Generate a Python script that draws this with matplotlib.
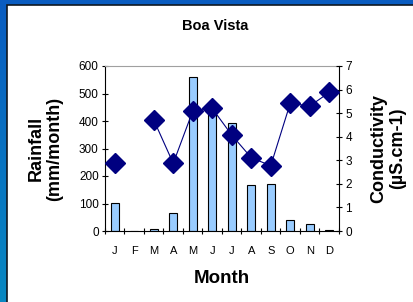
import matplotlib
matplotlib.use("Agg")
import matplotlib.pyplot as plt
import numpy as np
from matplotlib.patches import Rectangle

months = ["J", "F", "M", "A", "M", "J", "J", "A", "S", "O", "N", "D"]
rainfall = [103, 0, 6, 64, 561, 440, 393, 166, 170, 39, 24, 3]
conductivity = [2.88, np.nan, 4.71, 2.87, 5.09, 5.2, 4.07, 3.11, 2.77, 5.42, 5.3, 5.88]

W, H = 414, 302
fig = plt.figure(figsize=(W / 100, H / 100), dpi=100)

# blue gradient background
bg = fig.add_axes([0, 0, 1, 1])
bg.set_axis_off()
grad = np.linspace(0, 1, 100)[:, None]
c_top = np.array([0x0a, 0x5c, 0xc0]) / 255
c_bot = np.array([0x08, 0x88, 0xc2]) / 255
img = c_top[None, None, :] * (1 - grad[:, :, None]) + c_bot[None, None, :] * grad[:, :, None]
bg.imshow(img, aspect="auto", extent=[0, 1, 0, 1], origin="upper")
bg.set_xlim(0, 1)
bg.set_ylim(0, 1)
bg.add_patch(Rectangle((7 / W, -0.1), 1.2, 1.1 - 5 / H, facecolor="white",
                       edgecolor="#101820", linewidth=1.2, transform=bg.transAxes))

left, right, top, bottom = 105, 339, 66, 231
ax = fig.add_axes([left / W, 1 - bottom / H, (right - left) / W, (bottom - top) / H])
ax.set_zorder(2)
x = np.arange(len(months))
ax.bar(x, rainfall, width=0.42, color="#99ccff", edgecolor="black", linewidth=0.8, zorder=2)
ax.set_xlim(-0.5, 11.5)
ax.set_ylim(0, 600)
ax.set_yticks(range(0, 601, 100))
ax.set_xticks(np.arange(-0.5, 12, 1), minor=False)
ax.set_xticklabels([])
ax.set_xticks(x, minor=True)
ax.set_xticklabels(months, minor=True, fontsize=8, family="Liberation Sans")
ax.tick_params(axis="x", which="minor", length=0, pad=11)
ax.tick_params(axis="x", which="major", length=4, direction="inout", width=0.8)
ax.tick_params(axis="y", length=5, direction="inout", width=0.8, labelsize=8.5, pad=2)
for lab in ax.get_yticklabels():
    lab.set_family("Liberation Sans")
ax.spines["top"].set_color("#a0a0a0")
ax.spines["right"].set_visible(False)
ax.patch.set_alpha(0)
ax.set_ylabel("Rainfall\n(mm/month)", fontsize=13, fontweight="bold", family="Liberation Sans",
              linespacing=1.15, labelpad=11)
ax.set_xlabel("Month", fontsize=13.5, fontweight="bold", family="Liberation Sans", labelpad=10)
ax.set_title("Boa Vista", fontsize=10.5, fontweight="bold", family="Liberation Sans",
             x=0.472, pad=26)

ax2 = ax.twinx()
ax2.plot(x, conductivity, color="#000080", linewidth=0.8, marker="D", markersize=10.5,
         markerfacecolor="#000080", markeredgecolor="#000080", zorder=3, clip_on=False)
ax2.set_ylim(0, 7)
ax2.set_yticks(range(0, 8))
ax2.tick_params(axis="y", length=5, direction="inout", width=0.8, labelsize=8.5, pad=2)
for lab in ax2.get_yticklabels():
    lab.set_family("Liberation Sans")
for s in ["top", "left", "bottom"]:
    ax2.spines[s].set_visible(False)
ax2.set_ylabel("Conductivity\n(\u00b5S.cm-1)", fontsize=13, fontweight="bold",
               family="Liberation Sans", linespacing=1.15, labelpad=13)

fig.savefig("out.png", dpi=100)
